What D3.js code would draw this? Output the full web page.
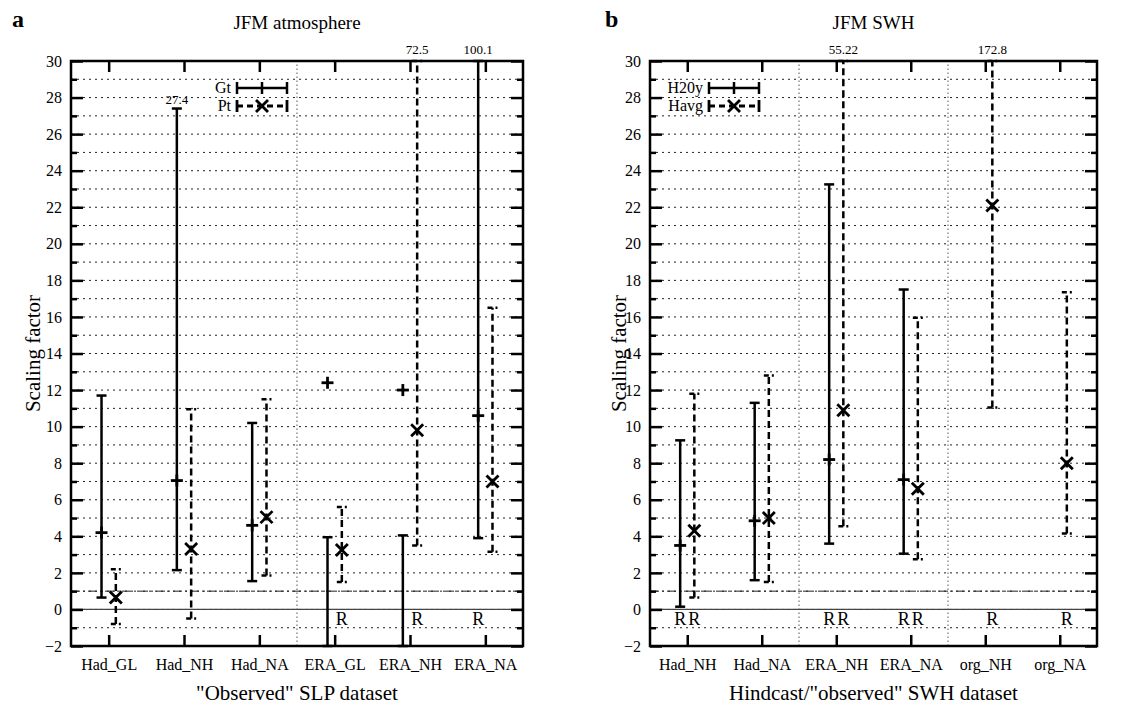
<!DOCTYPE html>
<html>
<head>
<meta charset="utf-8">
<script src="https://cdn.jsdelivr.net/npm/d3@7"></script>
<style>
  body { margin: 0; background: #fff; }
  text { font-family: "Liberation Serif", "Times New Roman", serif; fill: #000; }
</style>
</head>
<body>
<div id="chart"></div>
<script>
// panel a: "Observed" SLP dataset
const catsA = ["Had_GL", "Had_NH", "Had_NA", "ERA_GL", "ERA_NH", "ERA_NA"];
const gtLowA  = [0.65, 2.15, 1.55, -5, -5, 3.9];
const gtMidA  = [4.2, 7.05, 4.6, 12.4, 12.0, 10.6];
const gtHighA = [11.7, 27.4, 10.2, 3.95, 4.05, 100.1];
const ptLowA  = [-0.8, -0.5, 1.85, 1.5, 3.5, 3.15];
const ptMidA  = [0.65, 3.3, 5.05, 3.25, 9.8, 7.0];
const ptHighA = [2.2, 10.95, 11.5, 5.6, 72.5, 16.5];
const rGtA = [false, false, false, false, false, true];
const rPtA = [false, false, false, true, true, false];
const sepA = [3];

// panel b: Hindcast/"observed" SWH dataset
const catsB = ["Had_NH", "Had_NA", "ERA_NH", "ERA_NA", "org_NH", "org_NA"];
const gtLowB  = [0.15, 1.6, 3.6, 3.05, null, null];
const gtMidB  = [3.5, 4.85, 8.2, 7.1, null, null];
const gtHighB = [9.25, 11.3, 23.25, 17.5, null, null];
const ptLowB  = [0.65, 1.5, 4.55, 2.75, 11.05, 4.15];
const ptMidB  = [4.3, 5.0, 10.9, 6.6, 22.1, 8.0];
const ptHighB = [11.8, 12.8, 55.22, 15.95, 172.8, 17.35];
const rGtB = [true, false, true, true, false, false];
const rPtB = [true, false, true, true, true, true];
const sepB = [2, 4];

const yMajor = d3.range(-2, 31, 2);
const yMinor = d3.range(-1, 30, 2);
const yGrid = d3.range(-1, 30, 1);

const svg = d3.select("#chart")
  .append("svg")
    .attr("width", 1136)
    .attr("height", 710);

function drawPanel(p) {
  const y = d3.scaleLinear().domain([-2, 30]).range([646, 61]).clamp(true);
  const x = d3.scalePoint().domain(p.cats).range([p.left, p.right]).padding(0.5);
  const step = x.step();
  const off = step * 0.095;
  const g = svg.append("g");

  // gridlines
  g.selectAll(".hgrid")
    .data(yGrid)
    .join("line")
      .attr("x1", p.left).attr("x2", p.right)
      .attr("y1", d => y(d)).attr("y2", d => y(d))
      .attr("stroke", "#222")
      .attr("stroke-width", 1)
      .attr("stroke-dasharray", "2,4");

  g.selectAll(".vgrid")
    .data(p.seps)
    .join("line")
      .attr("x1", d => p.left + step * d).attr("x2", d => p.left + step * d)
      .attr("y1", y(-2)).attr("y2", y(30))
      .attr("stroke", "#555")
      .attr("stroke-width", 1)
      .attr("stroke-dasharray", "1.5,2.5");

  // zero line and y=1 reference
  g.append("line")
    .attr("x1", p.left).attr("x2", p.right)
    .attr("y1", y(0)).attr("y2", y(0))
    .attr("stroke", "#444").attr("stroke-width", 1.3);
  g.append("line")
    .attr("x1", p.left).attr("x2", p.right)
    .attr("y1", y(1)).attr("y2", y(1))
    .attr("stroke", "#222").attr("stroke-width", 1)
    .attr("stroke-dasharray", "9,3,2,3");

  // axes (ticks inward)
  const tickStyle = sel => {
    sel.select(".domain").remove();
    sel.selectAll(".tick line").attr("stroke", "#000").attr("stroke-width", 2.5);
    sel.selectAll("text").style("font-size", "16px").style("font-family", "Liberation Serif, serif");
  };
  g.append("g").attr("transform", `translate(${p.left},0)`)
    .call(d3.axisLeft(y).tickValues(yMajor).tickSize(-12).tickPadding(9).tickFormat(d3.format("d")))
    .call(tickStyle);
  g.append("g").attr("transform", `translate(${p.left},0)`)
    .call(d3.axisLeft(y).tickValues(yMinor).tickSize(-6).tickFormat(""))
    .call(tickStyle);
  g.append("g").attr("transform", `translate(${p.right},0)`)
    .call(d3.axisRight(y).tickValues(yMajor).tickSize(-12).tickFormat(""))
    .call(tickStyle);
  g.append("g").attr("transform", `translate(${p.right},0)`)
    .call(d3.axisRight(y).tickValues(yMinor).tickSize(-6).tickFormat(""))
    .call(tickStyle);
  g.append("g").attr("transform", `translate(0,${y(-2)})`)
    .call(d3.axisBottom(x).tickSize(-11).tickPadding(13))
    .call(tickStyle);
  g.append("g").attr("transform", `translate(0,${y(30)})`)
    .call(d3.axisTop(x).tickSize(-11).tickFormat(""))
    .call(tickStyle);

  // error bars
  const series = [
    { low: p.gtLow, mid: p.gtMid, high: p.gtHigh, r: p.rGt, dx: -off, dash: null, marker: "plus" },
    { low: p.ptLow, mid: p.ptMid, high: p.ptHigh, r: p.rPt, dx: off, dash: "7,4", marker: "cross" }
  ];
  const cap = 5;
  series.forEach(s => {
    p.cats.forEach((c, i) => {
      const cx = x(c) + s.dx;
      if (s.low[i] != null) {
        const bar = g.append("g")
          .attr("stroke", "#000").attr("stroke-width", 2.5).attr("fill", "none");
        bar.append("line")
          .attr("x1", cx).attr("x2", cx)
          .attr("y1", y(s.low[i])).attr("y2", y(s.high[i]))
          .attr("stroke-dasharray", s.dash);
        [s.low[i], s.high[i]].forEach(v => {
          bar.append("line")
            .attr("x1", cx - cap).attr("x2", cx + cap)
            .attr("y1", y(v)).attr("y2", y(v))
            .attr("stroke-dasharray", s.dash ? "5,3" : null);
        });
        // value labels for bars running off the top
        const hv = s.high[i];
        if (hv > 26) {
          g.append("text")
            .attr("x", cx)
            .attr("y", hv > 30 ? y(30) - 7 : y(hv) - 5)
            .attr("text-anchor", "middle")
            .style("font-size", "13px")
            .text(String(hv));
        }
      }
      if (s.mid[i] != null) {
        const my = y(s.mid[i]);
        const m = g.append("g").attr("stroke", "#000").attr("stroke-width", 2.8);
        if (s.marker === "plus") {
          m.append("line").attr("x1", cx - 6).attr("x2", cx + 6).attr("y1", my).attr("y2", my);
          m.append("line").attr("x1", cx).attr("x2", cx).attr("y1", my - 6).attr("y2", my + 6);
        } else {
          m.append("line").attr("x1", cx - 6).attr("x2", cx + 6).attr("y1", my - 6).attr("y2", my + 6);
          m.append("line").attr("x1", cx - 6).attr("x2", cx + 6).attr("y1", my + 6).attr("y2", my - 6);
        }
      }
      if (s.r[i]) {
        g.append("text")
          .attr("x", cx)
          .attr("y", y(-0.85))
          .attr("text-anchor", "middle")
          .style("font-size", "18px")
          .text("R");
      }
    });
  });

  // frame
  g.append("rect")
    .attr("x", p.left).attr("y", y(30))
    .attr("width", p.right - p.left).attr("height", y(-2) - y(30))
    .attr("fill", "none").attr("stroke", "#000").attr("stroke-width", 2.5);

  // legend
  const lg = g.append("g");
  const lx0 = p.legX, lx1 = p.legX + 50, lxm = p.legX + 25;
  [{ name: p.legNames[0], yy: 88, dash: null, marker: "plus" },
   { name: p.legNames[1], yy: 106, dash: "6,4", marker: "cross" }].forEach(r => {
    lg.append("rect")
      .attr("x", lx0 - 4 - r.name.length * 9).attr("y", r.yy - 8)
      .attr("width", r.name.length * 9 + 58).attr("height", 16)
      .attr("fill", "#fff");
    lg.append("text")
      .attr("x", lx0 - 6).attr("y", r.yy + 5)
      .attr("text-anchor", "end")
      .style("font-size", "16px")
      .text(r.name);
    const l = lg.append("g").attr("stroke", "#000").attr("stroke-width", 2.5);
    l.append("line").attr("x1", lx0).attr("x2", lx1).attr("y1", r.yy).attr("y2", r.yy)
      .attr("stroke-dasharray", r.dash);
    [lx0, lx1].forEach(v => l.append("line")
      .attr("x1", v).attr("x2", v).attr("y1", r.yy - 6).attr("y2", r.yy + 6));
    if (r.marker === "plus") {
      l.append("line").attr("x1", lxm).attr("x2", lxm).attr("y1", r.yy - 6).attr("y2", r.yy + 6);
    } else {
      l.attr("stroke-width", 2.8);
      l.append("line").attr("x1", lxm - 6).attr("x2", lxm + 6).attr("y1", r.yy - 6).attr("y2", r.yy + 6);
      l.append("line").attr("x1", lxm - 6).attr("x2", lxm + 6).attr("y1", r.yy + 6).attr("y2", r.yy - 6);
    }
  });

  // titles
  svg.append("text")
    .attr("x", p.letterX).attr("y", 27)
    .style("font-size", "24px").style("font-weight", "bold")
    .text(p.letter);
  svg.append("text")
    .attr("x", (p.left + p.right) / 2).attr("y", 29)
    .attr("text-anchor", "middle")
    .style("font-size", "19px")
    .text(p.title);
  svg.append("text")
    .attr("x", (p.left + p.right) / 2).attr("y", 700)
    .attr("text-anchor", "middle")
    .style("font-size", "21px")
    .text(p.xTitle);
  svg.append("text")
    .attr("transform", `translate(${p.yTitleX},${(y(-2) + y(30)) / 2}) rotate(-90)`)
    .attr("text-anchor", "middle")
    .style("font-size", "21px")
    .text("Scaling factor");
}

drawPanel({
  cats: catsA, left: 71, right: 523, seps: sepA,
  gtLow: gtLowA, gtMid: gtMidA, gtHigh: gtHighA,
  ptLow: ptLowA, ptMid: ptMidA, ptHigh: ptHighA,
  rGt: rGtA, rPt: rPtA,
  legX: 237, legNames: ["Gt", "Pt"],
  letter: "a", letterX: 12, title: "JFM atmosphere",
  xTitle: "\"Observed\" SLP dataset", yTitleX: 40
});

drawPanel({
  cats: catsB, left: 650, right: 1097, seps: sepB,
  gtLow: gtLowB, gtMid: gtMidB, gtHigh: gtHighB,
  ptLow: ptLowB, ptMid: ptMidB, ptHigh: ptHighB,
  rGt: rGtB, rPt: rPtB,
  legX: 709, legNames: ["H20y", "Havg"],
  letter: "b", letterX: 605, title: "JFM SWH",
  xTitle: "Hindcast/\"observed\" SWH dataset", yTitleX: 626
});
</script>
</body>
</html>
